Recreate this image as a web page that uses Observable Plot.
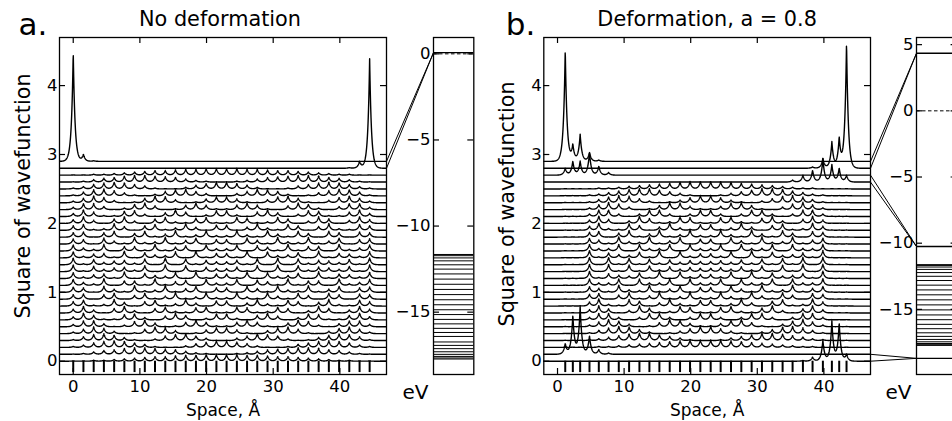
<!DOCTYPE html>
<html><head><meta charset="utf-8">
<script src="https://cdn.jsdelivr.net/npm/d3@7"></script>
<script src="https://cdn.jsdelivr.net/npm/@observablehq/plot@0.6"></script>
<style>
html,body{margin:0;padding:0;background:#fff;}
#fig{position:relative;width:952px;height:421px;overflow:hidden;background:#fff;}
#fig svg{position:absolute;left:0;top:0;overflow:visible;}
</style></head><body><div id="fig"></div>
<script>
// ---------------- DATA ----------------
// atom positions (Å)
const atomsA = [0.00,1.53,3.07,4.60,6.14,7.67,9.20,10.74,12.27,13.81,15.34,16.88,18.41,19.94,21.48,23.01,24.55,26.08,27.61,29.15,30.68,32.22,33.75,35.28,36.82,38.35,39.89,41.42,42.96,44.47];
const atomsB = [1.16,2.30,3.40,4.80,6.20,7.67,9.20,10.75,12.30,13.80,15.30,16.85,18.40,19.90,21.45,23.00,24.50,26.05,27.60,29.15,30.70,32.25,33.80,35.30,36.85,38.30,39.85,41.20,42.30,43.40];
// bulk-state peak heights per atom, one digit per atom (0..9), bottom row first
const bulkA = [
"001123456678899998876654321100",
"013568998764210012467899865310",
"136898641002579975200146898631",
"158974102689630036986201479851",
"269730169840158851048961037962",
"388402795016961169610597204883",
"496117830596028820695038711694",
"594069306821781187128603960495",
"681295068139407704931860592186",
"670680581491392293194185086076",
"760841923915806608519329148067",
"842906619157083380751916609248",
"825619074380916619083470916528",
"917356280908164461809082653719",
"917356280908164461809082653719",
"825619074380916619083470916528",
"842906619157083380751916609248",
"760841923915806608519329148067",
"670680581491392293194185086076",
"681295068139407704931860592186",
"594069306821781187128603960495",
"496117830596028820695038711694",
"388402795016961169610597204883",
"269730169840158851048961037962",
"158974102689630036986201479851",
"136898641002579975200146898631",
"013568998764210012467899865310",
"001123456678899998876654321100"
];
// panel b bulk states: atoms 4..27
const bulkB = [
"011234567899998765432110",
"124689975310013579986421",
"147985201369963102589741",
"269730159841148951037962",
"388303883038830388303883",
"495039612871178216930594",
"592186049317713940681295",
"670581491392293194185076",
"751932914806608419239157",
"833808338083380833808338",
"916437190825528091734619",
"909181726354453627181909",
"909181726354453627181909",
"916437190825528091734619",
"833808338083380833808338",
"751932914806608419239157",
"670581491392293194185076",
"592186049317713940681295",
"495039612871178216930594",
"388303883038830388303883",
"269730159841148951037962",
"147985201369963102589741",
"124689975310013579986421",
"011234567899998765432110"
];
// edge states: offset, [atom number, peak height]
const edgeA = [
  {base: 2.9, peaks: [[1,1.59],[2,0.10],[3,0.01]]},
  {base: 2.8, peaks: [[30,1.59],[29,0.10],[28,0.01]]}
];
const edgeB = [
  {base: 2.9, peaks: [[1,1.63],[2,0.23],[3,0.39],[4,0.13],[5,0.02]]},
  {base: 2.8, peaks: [[30,1.83],[29,0.43],[28,0.38],[27,0.14],[26,0.02]]},
  {base: 2.7, peaks: [[1,0.10],[2,0.20],[3,0.20],[4,0.33],[5,0.13],[6,0.04]]},
  {base: 2.6, peaks: [[30,0.10],[29,0.20],[28,0.25],[27,0.34],[26,0.17],[25,0.10],[24,0.03]]},
  {base: 0.1, peaks: [[1,0.15],[2,0.56],[3,0.69],[4,0.27],[5,0.07],[6,0.02]]},
  {base: 0.0, peaks: [[30,0.10],[29,0.55],[28,0.58],[27,0.30],[26,0.06],[25,0.01]]}
];
// energy levels (eV)
const bandA = [-11.65,-11.72,-11.85,-12.02,-12.25,-12.5,-12.78,-13.08,-13.38,-13.68,-13.98,-14.28,-14.57,-14.86,-15.14,-15.42,-15.68,-15.94,-16.18,-16.41,-16.73,-16.93,-17.12,-17.3,-17.45,-17.57,-17.66,-17.72];
const edgeLevelsA = [0.07];
const bandB = [-11.62,-11.68,-11.8,-11.98,-12.22,-12.5,-12.82,-13.17,-13.53,-13.9,-14.28,-14.66,-15.04,-15.42,-15.78,-16.13,-16.46,-16.77,-17.04,-17.27,-17.45,-17.58,-17.67,-17.72];
const edgeLevelsB = [4.35,-10.25,-18.7];
const fermi = [0];
// connectors: curve offset -> energy level
const connA = [{from: 2.9, to: 0.07},{from: 2.8, to: 0.07}];
const connB = [{from: 2.9, to: 4.35},{from: 2.8, to: 4.35},{from: 2.7, to: -10.25},{from: 2.6, to: -10.25},{from: 0.1, to: -18.7},{from: 0.0, to: -18.7}];
// ticks and texts
const xTicks = [0,10,20,30,40];
const yTicks = [0,1,2,3,4];
const eTicksA = [0,-5,-10,-15];
const eTicksB = [5,0,-5,-10,-15];
const titles = ["No deformation","Deformation, a = 0.8"];
const tags = ["a.","b."];

// ---------------- LAYOUT ----------------
const W = 952, H = 421, TOP = 37, BOT = 374, TICK = 6;
const xDom = [-2.06, 47.0], yDom = [-0.193, 4.698];
const eDomA = [-18.62, 0.95], eDomB = [-19.92, 5.54];
const FONT = "DejaVu Sans";
const S = 0.27; // cusp width of each atomic peak (Å)
const fmt = d => d < 0 ? "\u2212" + Math.abs(d) : String(d);

function buildCurves(atoms, curves) {
  const pts = [];
  const step = 0.03;
  const n = Math.round((xDom[1] - xDom[0]) / step);
  curves.forEach((c, id) => {
    for (let k = 0; k <= n; k++) {
      const x = xDom[0] + k * step;
      let y = c.base;
      c.h.forEach((h, j) => {
        if (!h) return;
        const d = Math.abs(x - atoms[j]);
        if (d < 3.5) y += h * Math.exp(-d / S);
      });
      pts.push({id, x, y});
    }
  });
  return pts;
}
function fromDigits(s, scale, pad) {
  const full = "0".repeat(pad) + s + "0".repeat(pad);
  return Array.from(full, ch => 0.004 + (+ch) * scale);
}
function fromEdge(e, nAtoms) {
  const h = new Array(nAtoms).fill(0);
  e.peaks.forEach(([j, v]) => { h[j - 1] = v; });
  return {base: e.base, h};
}
const curvesA = bulkA.map((s, i) => ({base: i * 0.1, h: fromDigits(s, 0.0105, 0)}))
  .concat(edgeA.map(e => fromEdge(e, atomsA.length)));
const curvesB = bulkB.map((s, i) => ({base: 0.2 + i * 0.1, h: fromDigits(s, 0.0115, 3)}))
  .concat(edgeB.map(e => fromEdge(e, atomsB.length)));

const styleBase = {fontFamily: FONT, fontSize: "16.5px", color: "black", background: "transparent", overflow: "visible"};

function mainPlot(atoms, curves, left, right, title, tag, tagDx, ylabDy, titleDx) {
  const xm = Plot.scale({x: {domain: xDom, range: [left, right]}});
  const ym = Plot.scale({y: {domain: yDom, range: [BOT, TOP]}});
  return Plot.plot({
    width: W, height: H,
    marginLeft: left, marginRight: W - right, marginTop: TOP, marginBottom: H - BOT,
    x: {domain: xDom, axis: null},
    y: {domain: yDom, axis: null},
    style: styleBase,
    marks: [
      Plot.line(buildCurves(atoms, curves), {x: "x", y: "y", z: "id", stroke: "black", strokeWidth: 1.4, clip: true}),
      Plot.ruleX(atoms, {x: d => d, y1: 0, y2: -0.165, stroke: "black", strokeWidth: 2}),
      Plot.frame({stroke: "black", strokeWidth: 1.3}),
      // inward ticks on all four sides
      Plot.ruleX(xTicks, {x: d => d, y1: yDom[0], y2: ym.invert(BOT - TICK), stroke: "black", strokeWidth: 1.2}),
      Plot.ruleX(xTicks, {x: d => d, y1: yDom[1], y2: ym.invert(TOP + TICK), stroke: "black", strokeWidth: 1.2}),
      Plot.ruleY(yTicks, {y: d => d, x1: xDom[0], x2: xm.invert(left + TICK), stroke: "black", strokeWidth: 1.2}),
      Plot.ruleY(yTicks, {y: d => d, x1: xDom[1], x2: xm.invert(right - TICK), stroke: "black", strokeWidth: 1.2}),
      Plot.axisX({ticks: xTicks, anchor: "bottom", tickSize: 0, tickPadding: 6, tickFormat: fmt, label: null, fontSize: 16.5}),
      Plot.axisY({ticks: yTicks, anchor: "left", tickSize: 0, tickPadding: 2, tickFormat: fmt, label: null, fontSize: 16.5}),
      Plot.text([title], {frameAnchor: "top", dx: titleDx, dy: -12, lineAnchor: "bottom", fontSize: 20.8}),
      Plot.text([tag], {frameAnchor: "top-left", dx: tagDx, dy: -3, textAnchor: "start", lineAnchor: "bottom", fontSize: 31}),
      Plot.text(["Square of wavefunction"], {frameAnchor: "left", dx: -36.5, dy: ylabDy, rotate: -90, textAnchor: "middle", fontSize: 20.7}),
      Plot.text(["Space, \u00c5"], {frameAnchor: "bottom", dy: 41, lineAnchor: "bottom", fontSize: 17})
    ]
  });
}

function energyPlot(left, right, eDom, eTicks, band, edgeLevels, conn, mainRight) {
  const xs = Plot.scale({x: {domain: [0, 1], range: [left, right]}});
  const ys = Plot.scale({y: {domain: eDom, range: [BOT, TOP]}});
  const ym = Plot.scale({y: {domain: yDom, range: [BOT, TOP]}});
  const x0 = xs.invert(mainRight);
  return Plot.plot({
    width: W, height: H,
    marginLeft: left, marginRight: W - right, marginTop: TOP, marginBottom: H - BOT,
    x: {domain: [0, 1], axis: null},
    y: {domain: eDom, axis: null},
    style: styleBase,
    marks: [
      Plot.ruleY(band, {y: d => d, stroke: "black", strokeWidth: 1}),
      Plot.ruleY(edgeLevels, {y: d => d, stroke: "black", strokeWidth: 1.3}),
      Plot.ruleY(fermi, {y: d => d, stroke: "black", strokeWidth: 1, strokeDasharray: "3.5,2.5"}),
      Plot.link(conn, {x1: () => x0, y1: d => ys.invert(ym.apply(d.from)), x2: () => 0, y2: d => d.to, stroke: "black", strokeWidth: 1}),
      Plot.frame({stroke: "black", strokeWidth: 1.3}),
      Plot.ruleY(eTicks, {y: d => d, x1: 0, x2: xs.invert(left + TICK), stroke: "black", strokeWidth: 1.2}),
      Plot.ruleY(eTicks, {y: d => d, x1: 1, x2: xs.invert(right - TICK), stroke: "black", strokeWidth: 1.2}),
      Plot.axisY({ticks: eTicks, anchor: "left", tickSize: 0, tickPadding: 3, tickFormat: fmt, label: null, fontSize: 16.5}),
      Plot.text(["eV"], {frameAnchor: "bottom-left", dx: -31, dy: 24, textAnchor: "start", lineAnchor: "bottom", fontSize: 20})
    ]
  });
}

const fig = document.getElementById("fig");
fig.appendChild(mainPlot(atomsA, curvesA, 59, 386, titles[0], tags[0], -41, -10, -3));
fig.appendChild(energyPlot(433, 473.3, eDomA, eTicksA, bandA, edgeLevelsA, connA, 386));
fig.appendChild(mainPlot(atomsB, curvesB, 543.3, 870, titles[1], tags[1], -38, -2, 0));
fig.appendChild(energyPlot(916, 956.6, eDomB, eTicksB, bandB, edgeLevelsB, connB, 870));
</script></body></html>
